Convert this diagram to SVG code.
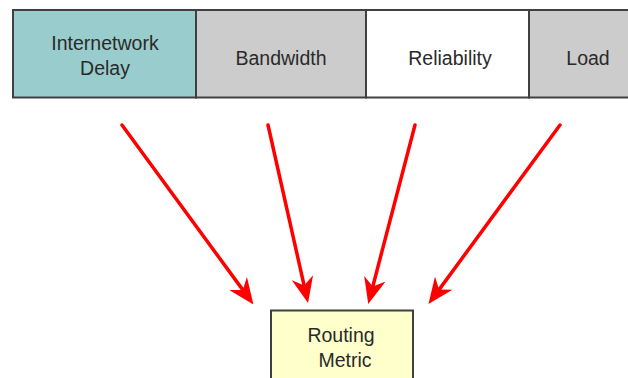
<svg xmlns="http://www.w3.org/2000/svg" width="628" height="378" viewBox="0 0 628 378">
<style>
.box{stroke:#404040;stroke-width:2}
.lbl{font-family:"Liberation Sans",Arial,sans-serif;font-size:19.5px;fill:#2a2a2a;text-anchor:middle}
.arr{stroke:#ff0000;stroke-width:3.5;fill:none;stroke-linecap:round}
</style>
<defs>
<marker id="ah" markerUnits="userSpaceOnUse" viewBox="0 0 26 22" refX="8" refY="11" markerWidth="26" markerHeight="22" orient="auto">
<path d="M0,0 L26,11 L0,22 L8,11 Z" fill="#ff0000"/>
</marker>
</defs>
<rect width="628" height="378" fill="#ffffff"/>
<g id="delay">
<rect class="box" x="13" y="10" width="183" height="87.5" fill="#99cccc"/>
<text class="lbl" x="105" y="50">Internetwork</text>
<text class="lbl" x="105" y="75">Delay</text>
</g>
<g id="bandwidth">
<rect class="box" x="196" y="10" width="170" height="87.5" fill="#cccccc"/>
<text class="lbl" x="281" y="65">Bandwidth</text>
</g>
<g id="reliability">
<rect class="box" x="366" y="10" width="163" height="87.5" fill="#ffffff"/>
<text class="lbl" x="450" y="65">Reliability</text>
</g>
<g id="load">
<rect class="box" x="529" y="10" width="120" height="87.5" fill="#cccccc"/>
<text class="lbl" x="588" y="65">Load</text>
</g>
<g id="metric">
<rect class="box" x="271" y="310.5" width="142" height="80" fill="#ffffcc"/>
<text class="lbl" x="341" y="342">Routing</text>
<text class="lbl" x="345" y="367">Metric</text>
</g>
<g id="connectors">
<line class="arr" x1="122" y1="125" x2="242.8" y2="289.9" marker-end="url(#ah)"/>
<line class="arr" x1="268" y1="125" x2="304.1" y2="285.4" marker-end="url(#ah)"/>
<line class="arr" x1="415" y1="125" x2="372.8" y2="286.5" marker-end="url(#ah)"/>
<line class="arr" x1="560" y1="125" x2="439.1" y2="289.6" marker-end="url(#ah)"/>
</g>
</svg>
